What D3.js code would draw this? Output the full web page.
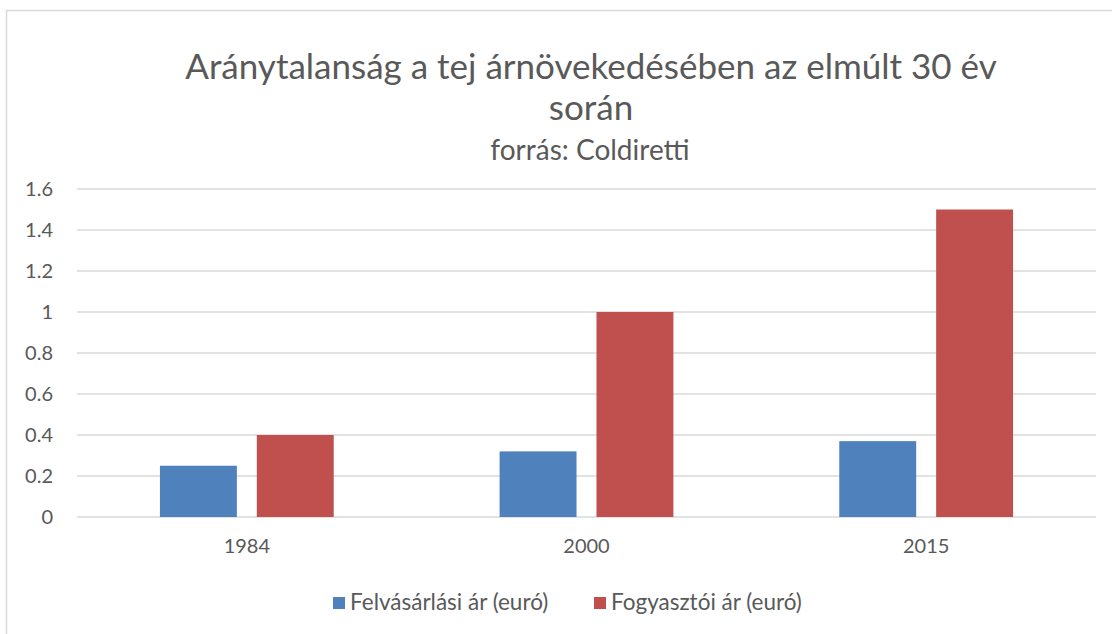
<!DOCTYPE html>
<html>
  <head>
    <meta charset="utf-8">
    <style type="text/css">
      body { margin: 0; background: #fff; }
      text { font-family: Lato, "Liberation Sans", sans-serif; fill: #595959; }
    </style>
  </head>
  <body>
    <svg id="chart" width="1112" height="634"></svg>
    <script src="https://d3js.org/d3.v7.min.js"></script>
    <script>
      const years = ["1984", "2000", "2015"];
      const seriesNames = ["Felvásárlási ár (euró)", "Fogyasztói ár (euró)"];
      const purchasePrice = [0.25, 0.32, 0.37];
      const consumerPrice = [0.4, 1.0, 1.5];
      const yTicks = [0, 0.2, 0.4, 0.6, 0.8, 1, 1.2, 1.4, 1.6];
      const colors = ["#4f81bd", "#c0504d"];

      const svg = d3.select("#chart");

      // chart border
      svg.append("rect")
        .attr("x", 6.5).attr("y", 10.5)
        .attr("width", 1120).attr("height", 640)
        .attr("fill", "none").attr("stroke", "#d9d9d9").attr("stroke-width", 1.5);

      const plotLeft = 77, plotRight = 1096, plotTop = 189, plotBottom = 517;

      const x = d3.scaleBand().domain(years).range([plotLeft, plotRight]);
      const xInner = d3.scaleBand().domain([0, 1]).range([0, x.bandwidth()]).paddingInner(0.206).paddingOuter(0.856);
      const y = d3.scaleLinear().domain([0, 1.6]).range([plotBottom, plotTop]);

      // gridlines
      svg.append("g").selectAll("line").data(yTicks).join("line")
        .attr("x1", plotLeft).attr("x2", plotRight)
        .attr("y1", (d) => y(d)).attr("y2", (d) => y(d))
        .attr("stroke", "#d9d9d9").attr("stroke-width", 1.5);

      const yAxis = svg.append("g")
        .attr("transform", `translate(${plotLeft},0)`)
        .call(d3.axisLeft(y).tickValues(yTicks).tickSize(0).tickPadding(24).tickFormat((d) => String(d)));
      yAxis.select(".domain").remove();
      yAxis.selectAll("text").style("font-size", "20px").attr("fill", "#595959");

      const xAxis = svg.append("g")
        .attr("transform", `translate(0,${plotBottom})`)
        .call(d3.axisBottom(x).tickSize(0).tickPadding(22));
      xAxis.select(".domain").remove();
      xAxis.selectAll("text").style("font-size", "20px").attr("fill", "#595959");

      const rows = years.map((yr, i) => ({ year: yr, values: [purchasePrice[i], consumerPrice[i]] }));

      const groups = svg.append("g").selectAll("g").data(rows).join("g")
        .attr("transform", (d) => `translate(${x(d.year)},0)`);
      groups.selectAll("rect").data((d) => d.values.map((v, k) => ({ v, k }))).join("rect")
        .attr("x", (d) => xInner(d.k))
        .attr("width", xInner.bandwidth())
        .attr("y", (d) => y(d.v))
        .attr("height", (d) => y(0) - y(d.v))
        .attr("fill", (d) => colors[d.k]);

      // titles
      svg.append("text").attr("x", 591).attr("y", 79).attr("text-anchor", "middle")
        .style("font-size", "35px").text("Aránytalanság a tej árnövekedésében az elmúlt 30 év");
      svg.append("text").attr("x", 591).attr("y", 120).attr("text-anchor", "middle")
        .style("font-size", "35px").text("során");
      svg.append("text").attr("x", 590).attr("y", 160).attr("text-anchor", "middle")
        .style("font-size", "28px").text("forrás: Coldiretti");

      // legend
      const legendX = [333, 594];
      const legend = svg.append("g").selectAll("g").data(seriesNames).join("g")
        .attr("transform", (d, i) => `translate(${legendX[i]},597)`);
      legend.append("rect").attr("width", 12).attr("height", 12).attr("fill", (d, i) => colors[i]);
      legend.append("text").attr("x", 17).attr("y", 13).style("font-size", "22.5px").text((d) => d);
    </script>
  </body>
</html>
